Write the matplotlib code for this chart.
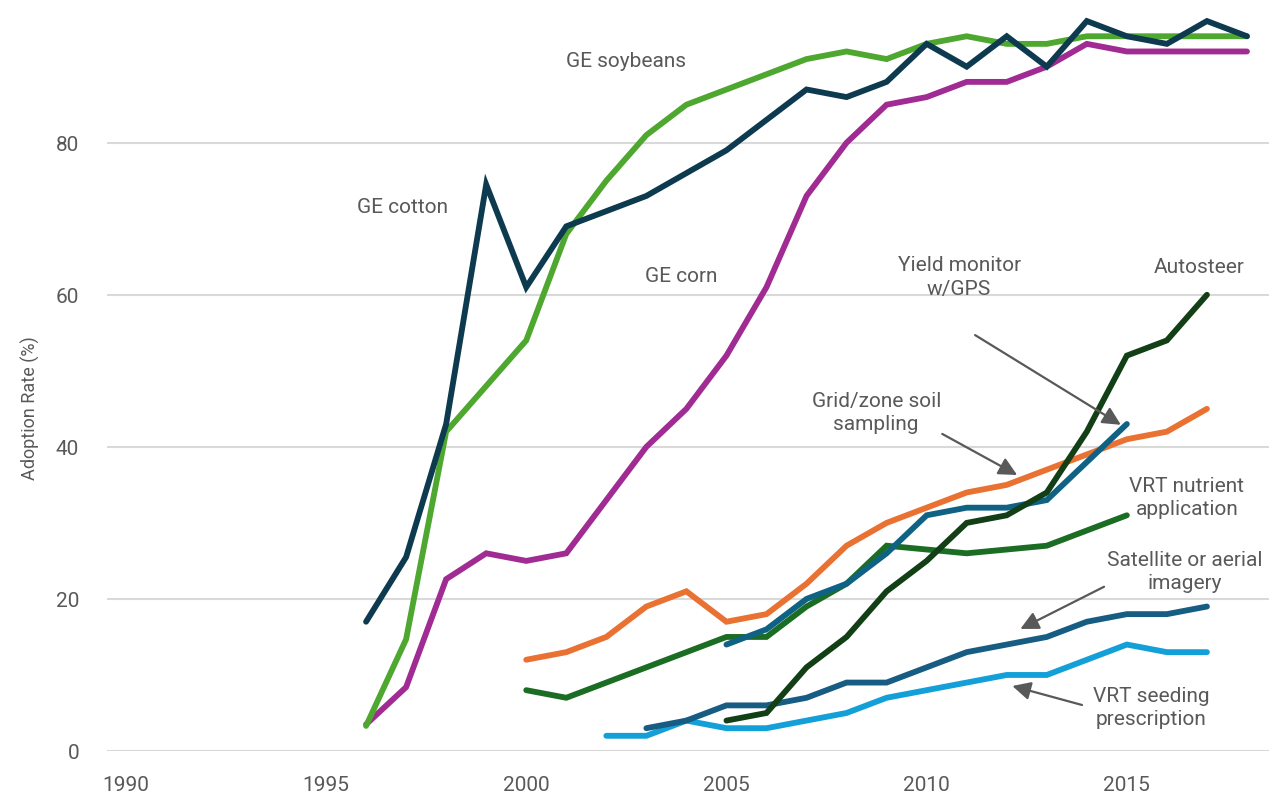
import numpy as np
import matplotlib
matplotlib.use('Agg')
import matplotlib.pyplot as plt

plt.rcParams['font.family'] = ['Liberation Sans Narrow', 'Roboto', 'DejaVu Sans']

# GE crops, 1996-2018
years_ge = list(range(1996, 2019))
ge_cotton = [17, 25.5, 43, 74.5, 61, 69, 71, 73, 76, 79, 83, 87, 86, 88, 93, 90, 94, 90, 96, 94, 93, 96, 94]
ge_soy = [3.3, 14.7, 42, 48, 54, 68, 75, 81, 85, 87, 89, 91, 92, 91, 93, 94, 93, 93, 94, 94, 94, 94, 94]
ge_corn = [3.5, 8.4, 22.6, 26, 25, 26, 33, 40, 45, 52, 61, 73, 80, 85, 86, 88, 88, 90, 93, 92, 92, 92, 92]

# precision agriculture technologies
years_grid = list(range(2000, 2018))
grid_soil = [12, 13, 15, 19, 21, 17, 18, 22, 27, 30, 32, 34, 35, 37, 39, 41, 42, 45]

years_nutrient = list(range(2000, 2016))
vrt_nutrient = [8, 7, 9, 11, 13, 15, 15, 19, 22, 27, 26.5, 26, 26.5, 27, 29, 31]

years_yield = list(range(2005, 2016))
yield_gps = [14, 16, 20, 22, 26, 31, 32, 32, 33, 38, 43]

years_auto = list(range(2005, 2018))
autosteer = [4, 5, 11, 15, 21, 25, 30, 31, 34, 42, 52, 54, 60]

years_sat = list(range(2003, 2018))
satellite = [3, 4, 6, 6, 7, 9, 9, 11, 13, 14, 15, 17, 18, 18, 19]

years_seed = list(range(2002, 2018))
vrt_seeding = [2, 2, 4, 3, 3, 4, 5, 7, 8, 9, 10, 10, 12, 14, 13, 13]

series = [
    (years_grid, grid_soil, '#e97132'),
    (years_nutrient, vrt_nutrient, '#1c6d24'),
    (years_seed, vrt_seeding, '#139fd8'),
    (years_sat, satellite, '#175c82'),
    (years_yield, yield_gps, '#0f6283'),
    (years_auto, autosteer, '#123f16'),
    (years_ge, ge_corn, '#a02b93'),
    (years_ge, ge_soy, '#4ea72e'),
    (years_ge, ge_cotton, '#0d3a4f'),
]

labels = [
    ('GE soybeans', 2002.5, 90.8),
    ('GE cotton', 1996.91, 71.6),
    ('GE corn', 2003.88, 62.6),
    ('Yield monitor\nw/GPS', 2010.81, 62.4),
    ('Autosteer', 2016.8, 63.7),
    ('Grid/zone soil\nsampling', 2008.74, 44.6),
    ('VRT nutrient\napplication', 2016.5, 33.4),
    ('Satellite or aerial\nimagery', 2016.45, 23.7),
    ('VRT seeding\nprescription', 2015.6, 5.8),
]

# (start, tip) of annotation arrows
arrows = [
    ((2011.21, 54.7), (2014.85, 42.9)),
    ((2010.39, 41.7), (2012.26, 36.3)),
    ((2014.43, 21.6), (2012.34, 16.05)),
    ((2013.88, 6.05), (2012.14, 8.55)),
]

txt = '#595959'
grid_c = '#d9d9d9'

fig = plt.figure(figsize=(12.69, 8.12), dpi=100)
ax = fig.add_axes([107 / 1269, 60 / 812, 1162 / 1269, 752 / 812])

for x, y, c in series:
    ax.plot(x, y, color=c, lw=4.2, solid_capstyle='round', solid_joinstyle='miter', clip_on=False)

for s, x, y in labels:
    ax.text(x, y, s, ha='center', va='center', fontsize=15, color=txt, linespacing=1.3)

for (x0, y0), (x1, y1) in arrows:
    ax.annotate('', xy=(x1, y1), xytext=(x0, y0),
                arrowprops=dict(arrowstyle='-|>,head_length=1.1,head_width=0.55',
                                color=txt, lw=1.6, shrinkA=0, shrinkB=0))

ax.set_xlim(1989.53, 2018.55)
ax.set_ylim(0, 98.9)
ax.set_xticks([1990, 1995, 2000, 2005, 2010, 2015])
ax.set_yticks([0, 20, 40, 60, 80])
ax.grid(axis='y', color=grid_c, lw=1.5)
ax.set_axisbelow(True)
for sp in ax.spines.values():
    sp.set_visible(False)
ax.tick_params(axis='both', length=0, labelsize=15, labelcolor=txt)
ax.tick_params(axis='y', pad=20)
ax.tick_params(axis='x', pad=17)
ax.set_ylabel('Adoption Rate (%)', fontsize=13, color=txt)
ax.yaxis.set_label_coords(-0.058, 0.457)

fig.savefig('out.png', dpi=100)
